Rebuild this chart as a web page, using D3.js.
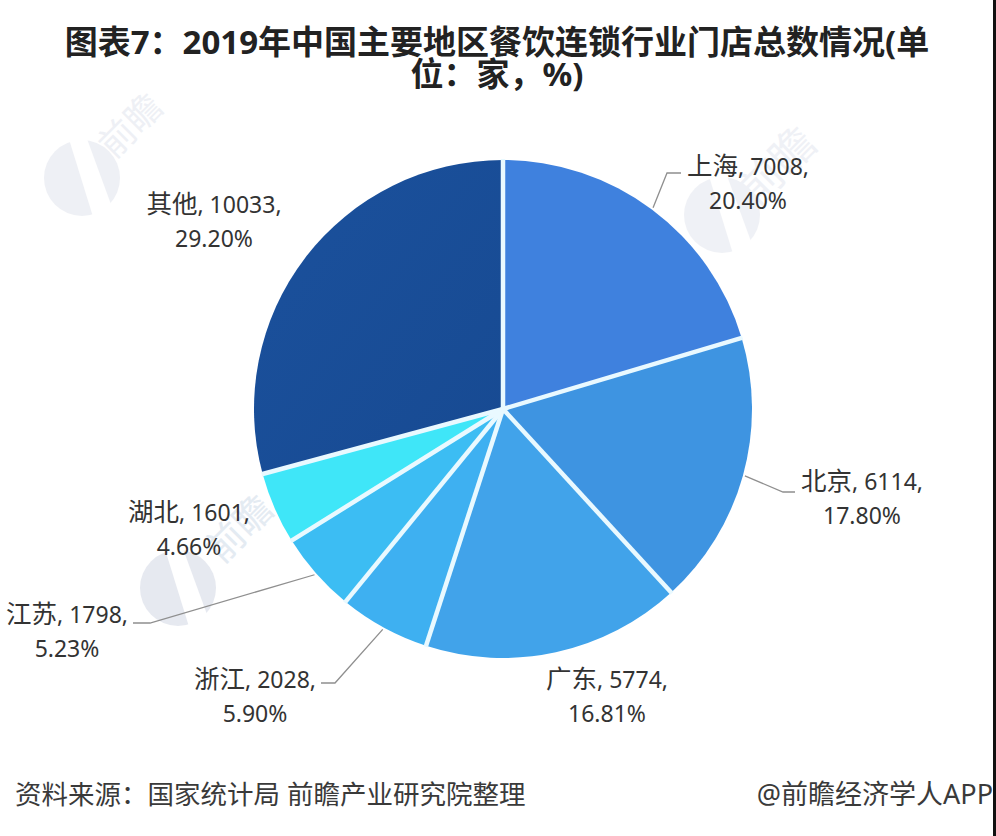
<!DOCTYPE html>
<html>
<head>
<meta charset="utf-8">
<script src="https://cdnjs.cloudflare.com/ajax/libs/d3/7.8.5/d3.min.js"></script>
<style>
html, body { margin: 0; padding: 0; background: #fff; }
svg { display: block; }
text { font-family: "Noto Sans", "Noto Sans CJK SC", sans-serif; }
</style>
</head>
<body>
<div id="viz"></div>
<script>
var w = 996;
var h = 836;

var categories = ["上海", "北京", "广东", "浙江", "江苏", "湖北", "其他"];
var stores = [7008, 6114, 5774, 2028, 1798, 1601, 10033];
var shares = ["20.40%", "17.80%", "16.81%", "5.90%", "5.23%", "4.66%", "29.20%"];

var colors = ["#3f81de", "#3e94e1", "#41a3ea", "#3eb0f1", "#3cbdf3", "#3fe6f8", "#1c4f9e"];
// label centre x, first line y
var labelX = [748, 862, 607, 255, 67, 189, 214];
var labelY = [167, 482, 680, 680, 615, 513, 205];
// leader line elbow + end, null = no leader
var leaderEnds = [
    [[667, 173], [681, 173]],
    [[783, 492], [795, 492]],
    null,
    [[335, 683], [321, 683]],
    [[150, 623], [133, 623]],
    null,
    null
];

var svg = d3.select("#viz")
    .append("svg")
    .attr("width", w)
    .attr("height", h);

var cx = 503, cy = 409, r = 249;

var defs = svg.append("defs");
var grad = defs.append("linearGradient")
    .attr("id", "other")
    .attr("x1", 1).attr("y1", 1).attr("x2", 0).attr("y2", 0);
grad.append("stop").attr("offset", "0%").attr("stop-color", "#174a92");
grad.append("stop").attr("offset", "100%").attr("stop-color", "#1b519d");

// watermarks
function watermark(x, y, tx, ty, size, op) {
    var g = svg.append("g").attr("opacity", op);
    g.append("circle").attr("cx", x).attr("cy", y).attr("r", 38).attr("fill", "#c9cfdf");
    g.append("path")
        .attr("d", d3.line()([[x - 14, y - 42], [x + 4, y - 42], [x + 34, y + 40], [x + 12, y + 42]]))
        .attr("fill", "#fff");
    g.append("text")
        .attr("transform", "translate(" + tx + "," + ty + ") rotate(-45)")
        .attr("font-size", size)
        .attr("fill", "#c9cfdf")
        .text("前瞻");
}
watermark(82, 178, 114, 160, 36, 0.3);
watermark(722, 215, 757, 208, 44, 0.28);
watermark(178, 588, 222, 565, 38, 0.45);

var pie = d3.pie().sort(null).value(function(d) { return d; });
var arc = d3.arc().innerRadius(0).outerRadius(r);
var arcs = pie(stores);

var chart = svg.append("g").attr("transform", "translate(" + cx + "," + cy + ")");

chart.selectAll("path.slice")
    .data(arcs)
    .enter()
    .append("path")
    .attr("class", "slice")
    .attr("d", arc)
    .attr("fill", function(d, i) { return i === 6 ? "url(#other)" : colors[i]; });

// separators between slices
chart.selectAll("line.sep")
    .data(arcs)
    .enter()
    .append("line")
    .attr("class", "sep")
    .attr("x2", function(d) { return Math.sin(d.startAngle) * (r + 1); })
    .attr("y2", function(d) { return -Math.cos(d.startAngle) * (r + 1); })
    .attr("stroke", "#e9f9ff")
    .attr("stroke-width", 4.5);

// faint watermark text showing through the pie
svg.append("text")
    .attr("transform", "translate(222,565) rotate(-45)")
    .attr("font-size", 38)
    .attr("fill", "#dff6ff")
    .attr("opacity", 0.18)
    .text("前瞻");

// leader lines start on the pie edge at mid angle
leaderEnds.forEach(function(end, i) {
    if (!end) return;
    var mid = (arcs[i].startAngle + arcs[i].endAngle) / 2;
    var start = [cx + Math.sin(mid) * (r + 2), cy - Math.cos(mid) * (r + 2)];
    svg.append("path")
        .attr("d", d3.line()([start, end[0], end[1]]))
        .attr("fill", "none")
        .attr("stroke", "#8f8f8f")
        .attr("stroke-width", 1.3);
});

var labels = svg.selectAll("g.label")
    .data(categories)
    .enter()
    .append("g")
    .attr("class", "label")
    .attr("text-anchor", "middle")
    .attr("fill", "#333")
    .attr("font-size", 23);

var firstLine = labels.append("text")
    .attr("x", function(d, i) { return labelX[i]; })
    .attr("y", function(d, i) { return labelY[i] + 8; });
firstLine.append("tspan")
    .attr("font-size", 25.5)
    .text(function(d) { return d; });
firstLine.append("tspan")
    .text(function(d, i) { return ", " + stores[i] + ","; });

labels.append("text")
    .attr("x", function(d, i) { return labelX[i]; })
    .attr("y", function(d, i) { return labelY[i] + 42; })
    .text(function(d, i) { return shares[i]; });

// title
var title = svg.append("text")
    .attr("text-anchor", "middle")
    .attr("font-size", 33).attr("font-weight", 700).attr("fill", "#222");
title.append("tspan")
    .attr("x", 497).attr("y", 54)
    .text("图表7：2019年中国主要地区餐饮连锁行业门店总数情况(单");
title.append("tspan")
    .attr("x", 497).attr("y", 86)
    .text("位：家，%)");

// footer
svg.append("text")
    .attr("x", 15).attr("y", 804)
    .attr("font-size", 26.5).attr("fill", "#3a3a3a")
    .text("资料来源：国家统计局 前瞻产业研究院整理");
svg.append("text")
    .attr("x", 993).attr("y", 804)
    .attr("text-anchor", "end")
    .attr("font-size", 27).attr("fill", "#3a3a3a")
    .text("@前瞻经济学人APP");

svg.append("rect").attr("x", 993).attr("y", 0).attr("width", 3).attr("height", h).attr("fill", "#111");
</script>
</body>
</html>
